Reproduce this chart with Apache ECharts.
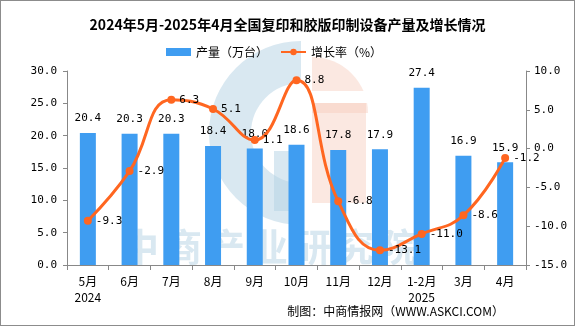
<!DOCTYPE html>
<html>
<head>
<meta charset="utf-8">
<script src="https://cdn.jsdelivr.net/npm/echarts@6/dist/echarts.min.js"></script>
<style>
  html, body { margin: 0; padding: 0; background: #fff; }
  #chart { width: 573px; height: 324px; border: 1px solid #8c8c8c; }
</style>
</head>
<body>
<div id="chart"></div>
<script>
// Monthly output of photocopying and offset printing equipment
const categories = ['5月\n2024', '6月', '7月', '8月', '9月', '10月', '11月', '12月', '1-2月\n2025', '3月', '4月'];
const outputValues = [20.4, 20.3, 20.3, 18.4, 18.0, 18.6, 17.8, 17.9, 27.4, 16.9, 15.9];
const growthValues = [-9.3, -2.9, 6.3, 5.1, 1.1, 8.8, -6.8, -13.1, -11.0, -8.6, -1.2];
const leftTicks = { min: 0, max: 30, interval: 5 };
const rightTicks = { min: -15, max: 10, interval: 5 };

const numFont = "'DejaVu Sans Mono', 'Noto Sans CJK SC', monospace";
const cjkFont = "'Noto Sans CJK SC', 'DejaVu Sans', sans-serif";
const barColor = '#3f9df1';
const lineColor = '#ff6620';
const markFill = 'rgba(180,210,228,0.5)';

// watermark lettering, one glyph per element so the spacing can be set
const watermarkText = '中商产业研究院';
const watermarkGlyphs = Array.from(watermarkText).map((ch, i) => ({
  type: 'text', z: -1, left: 120 + i * 43, top: 227,
  style: { text: ch, fill: markFill, font: "bold 38px 'Noto Sans CJK SC'" }
}));

const chart = echarts.init(document.getElementById('chart'), null, { renderer: 'canvas' });

chart.setOption({
  animation: false,
  backgroundColor: '#fff',
  title: {
    text: '2024年5月-2025年4月全国复印和胶版印制设备产量及增长情况',
    left: 'center',
    top: 12,
    textStyle: { fontFamily: cjkFont, fontSize: 14, fontWeight: 'bold', color: '#000' }
  },
  legend: {
    top: 40,
    left: 160,
    itemGap: 12,
    itemWidth: 25,
    itemHeight: 8,
    textStyle: { fontFamily: cjkFont, fontSize: 12, color: '#000' },
    data: [
      { name: '产量（万台）', icon: 'rect' },
      { name: '增长率（%）' }
    ]
  },
  grid: { left: 66, right: 48, top: 70, bottom: 60 },
  xAxis: {
    type: 'category',
    data: categories,
    axisLine: { lineStyle: { color: '#888', width: 1 } },
    axisTick: { show: true, alignWithLabel: false, length: 5, lineStyle: { color: '#888' } },
    axisLabel: { fontFamily: cjkFont, fontSize: 12, color: '#000', lineHeight: 16, margin: 8, interval: 0 }
  },
  yAxis: [
    {
      type: 'value',
      min: leftTicks.min, max: leftTicks.max, interval: leftTicks.interval,
      axisLine: { show: true, lineStyle: { color: '#888' } },
      axisTick: { show: true, length: 4, lineStyle: { color: '#888' } },
      splitLine: { show: false },
      axisLabel: { fontFamily: numFont, fontSize: 11, color: '#000', margin: 10,
        formatter: v => v.toFixed(1) }
    },
    {
      type: 'value',
      min: rightTicks.min, max: rightTicks.max, interval: rightTicks.interval,
      axisLine: { show: true, lineStyle: { color: '#888' } },
      axisTick: { show: true, length: 4, lineStyle: { color: '#888' } },
      splitLine: { show: false },
      axisLabel: { fontFamily: numFont, fontSize: 11, color: '#000', margin: 8,
        formatter: v => v.toFixed(1) }
    }
  ],
  graphic: [
    // faint logo mark behind the plot
    { type: 'sector', z: -1, shape: { cx: 300, cy: 132, r: 92, r0: 50, startAngle: Math.PI / 2, endAngle: Math.PI * 1.5 },
      style: { fill: markFill } },
    { type: 'rect', z: -1, shape: { x: 273, y: 150, width: 22, height: 60 },
      style: { fill: markFill } },
    { type: 'sector', z: -1, shape: { cx: 311, cy: 112, r: 56, r0: 0, startAngle: -Math.PI / 2, endAngle: 0 },
      style: { fill: 'rgba(246,205,188,0.45)' } },
    { type: 'rect', z: -1, shape: { x: 311, y: 102, width: 54, height: 100 },
      style: { fill: 'rgba(246,205,188,0.45)' } },
    { type: 'rect', z: -1, shape: { x: 311, y: 90, width: 56, height: 12 },
      style: { fill: '#fff' } },
    ...watermarkGlyphs,
    // credit line
    { type: 'text', right: 70, top: 304,
      style: { text: '制图：中商情报网（WWW.ASKCI.COM）', fill: '#000', font: "12px 'Noto Sans CJK SC'" } }
  ],
  series: [
    {
      name: '产量（万台）',
      type: 'bar',
      yAxisIndex: 0,
      data: outputValues,
      barWidth: 16,
      itemStyle: { color: barColor },
      label: { show: true, position: 'top', distance: 9, color: '#000', fontFamily: numFont, fontSize: 11,
        formatter: p => p.value.toFixed(1) }
    },
    {
      name: '增长率（%）',
      type: 'line',
      yAxisIndex: 1,
      data: growthValues,
      smooth: 0.45,
      symbol: 'circle',
      symbolSize: 8,
      lineStyle: { color: lineColor, width: 3 },
      itemStyle: { color: lineColor },
      label: { show: true, position: 'right', distance: 4, color: '#000', fontFamily: numFont, fontSize: 11,
        formatter: p => p.value.toFixed(1) }
    }
  ]
});
</script>
</body>
</html>
